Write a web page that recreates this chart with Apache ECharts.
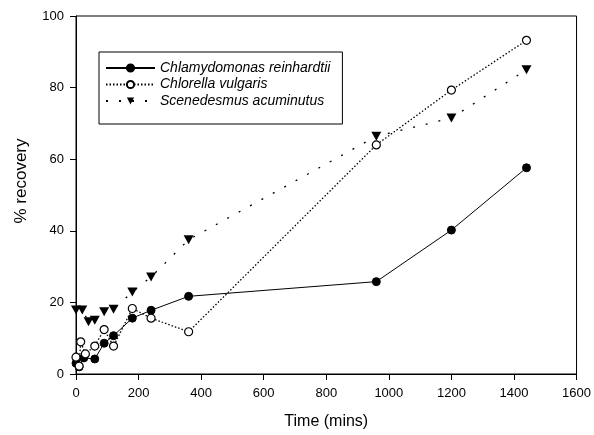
<!DOCTYPE html>
<html>
<head>
<meta charset="utf-8">
<script src="https://cdn.jsdelivr.net/npm/echarts@6/dist/echarts.min.js"></script>
<style>html,body{margin:0;padding:0;background:#fff}#c{width:594px;height:435px}</style>
</head>
<body>
<div id="c"></div>
<script>
const seriesNames = ['Chlamydomonas reinhardtii', 'Chlorella vulgaris', 'Scenedesmus acuminutus'];
const chlamyTime = [0, 10, 25, 60, 90, 120, 180, 240, 360, 960, 1200, 1440];
const chlamyVal  = [3.0, 2.0, 4.5, 4.2, 8.6, 10.7, 15.6, 17.8, 21.7, 25.8, 40.2, 57.6];
const chlorTime = [0, 10, 15, 30, 60, 90, 120, 180, 240, 360, 960, 1200, 1440];
const chlorVal  = [4.7, 2.2, 9.0, 5.6, 7.8, 12.4, 7.8, 18.3, 15.6, 11.8, 64.0, 79.3, 93.2];
const scenTime = [0, 20, 40, 60, 90, 120, 180, 240, 360, 960, 1200, 1440];
const scenVal  = [17.9, 17.9, 14.6, 15.0, 17.4, 18.1, 22.9, 27.1, 37.5, 66.4, 71.5, 85.0];
const xTicks = { min: 0, max: 1600, interval: 200 };
const yTicks = { min: 0, max: 100, interval: 20 };

const pair = (t, v) => t.map((x, i) => [x, v[i]]);
const font = 'Liberation Sans, Arial, sans-serif';
const chart = echarts.init(document.getElementById('c'));
chart.setOption({
  animation: false,
  backgroundColor: '#fff',
  grid: { left: 76, right: 17, top: 16, bottom: 58, show: true, borderColor: '#000', borderWidth: 1 },
  legend: {
    orient: 'vertical', left: 99, top: 52,
    padding: [9, 12, 16, 6],
    itemWidth: 49, itemHeight: 9, itemGap: 2.5,
    borderColor: '#000', borderWidth: 1,
    textStyle: { fontFamily: font, fontSize: 14, fontStyle: 'italic', color: '#000' },
    data: seriesNames
  },
  xAxis: {
    type: 'value', min: xTicks.min, max: xTicks.max, interval: xTicks.interval,
    name: 'Time (mins)', nameLocation: 'middle', nameGap: 40,
    nameTextStyle: { fontFamily: font, fontSize: 16, color: '#000' },
    axisLine: { lineStyle: { color: '#000', width: 1 } },
    axisTick: { show: true, inside: false, length: 6, lineStyle: { color: '#000' } },
    axisLabel: { fontFamily: font, fontSize: 13, color: '#000', margin: 13, formatter: v => String(v) },
    splitLine: { show: false }
  },
  yAxis: {
    type: 'value', min: yTicks.min, max: yTicks.max, interval: yTicks.interval,
    name: '% recovery', nameLocation: 'middle', nameGap: 46,
    nameTextStyle: { fontFamily: font, fontSize: 17, color: '#000', padding: [0, 0, 0, 28] },
    axisLine: { show: true, lineStyle: { color: '#000', width: 1 } },
    axisTick: { show: true, inside: false, length: 6, lineStyle: { color: '#000' } },
    axisLabel: { fontFamily: font, fontSize: 13, color: '#000', margin: 12, formatter: v => String(v) },
    splitLine: { show: false }
  },
  series: [
    {
      name: seriesNames[0], type: 'line', data: pair(chlamyTime, chlamyVal),
      symbol: 'circle', symbolSize: 8, showAllSymbol: true,
      lineStyle: { color: '#000', width: 1, type: 'solid' },
      itemStyle: { color: '#000', borderColor: '#000', borderWidth: 1 }
    },
    {
      name: seriesNames[1], type: 'line', data: pair(chlorTime, chlorVal),
      symbol: 'circle', symbolSize: 8, showAllSymbol: true,
      lineStyle: { color: '#000', width: 1.3, type: [1.5, 2] },
      itemStyle: { color: '#fff', borderColor: '#000', borderWidth: 1.2 }
    },
    {
      name: seriesNames[2], type: 'line', data: pair(scenTime, scenVal),
      symbol: 'triangle', symbolRotate: 180, symbolSize: [10, 9], showAllSymbol: true,
      lineStyle: { color: '#000', width: 1.3, type: [2, 11] },
      itemStyle: { color: '#000', borderColor: '#000', borderWidth: 0 }
    }
  ]
});
</script>
</body>
</html>
